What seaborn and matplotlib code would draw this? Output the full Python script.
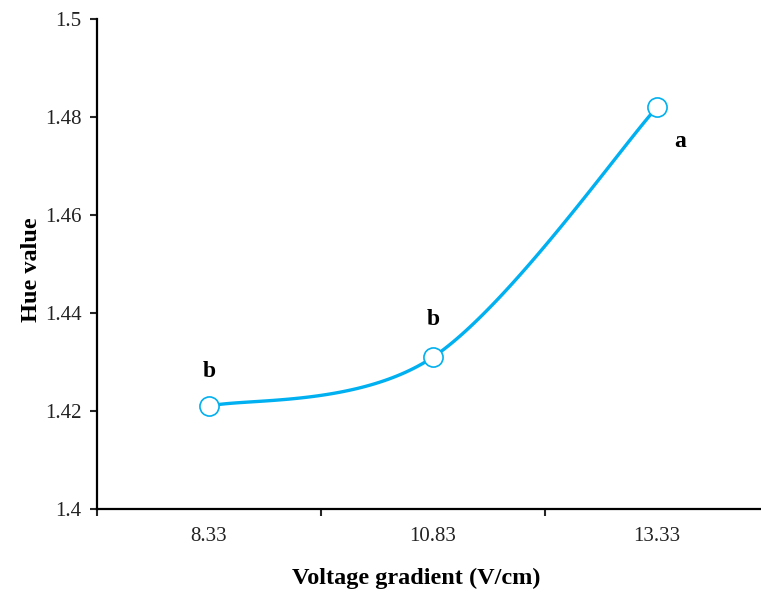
import numpy as np
import pandas as pd
import seaborn as sns
import matplotlib.pyplot as plt

# values
voltage = ['8.33', '10.83', '13.33']
hue_value = [1.421, 1.431, 1.482]
letters = ['b', 'b', 'a']

LINE = '#00B0F0'


def excel_smooth(y, n=60):
    """Excel-style smoothed line (Catmull-Rom as cubic Bezier)"""
    x = np.arange(len(y), dtype=float)
    y = np.asarray(y, dtype=float)
    pts = np.column_stack([x, y])
    ext = np.vstack([pts[0], pts, pts[-1]])
    out = []
    t = np.linspace(0, 1, n)[:, None]
    for i in range(len(pts) - 1):
        p0, p3 = ext[i + 1], ext[i + 2]
        c1 = p0 + (ext[i + 2] - ext[i]) / 6
        c2 = p3 - (ext[i + 3] - ext[i + 1]) / 6
        seg = ((1 - t) ** 3) * p0 + 3 * ((1 - t) ** 2) * t * c1 + 3 * (1 - t) * t ** 2 * c2 + t ** 3 * p3
        out.append(seg if i == 0 else seg[1:])
    curve = np.vstack(out)
    return pd.DataFrame({'x': curve[:, 0], 'y': curve[:, 1]})


sns.set_theme(style='white')
plt.rcParams['font.family'] = ['Liberation Serif', 'DejaVu Serif']

fig = plt.figure(figsize=(7.61, 5.95), dpi=100)
ax = fig.add_axes([97 / 761, 86 / 595, 672 / 761, 490 / 595])

df = pd.DataFrame({'pos': np.arange(len(voltage)), 'hue': hue_value})
sns.lineplot(data=excel_smooth(hue_value), x='x', y='y', ax=ax, color=LINE,
             linewidth=2.4, sort=False, estimator=None)
sns.scatterplot(data=df, x='pos', y='hue', ax=ax, s=190, color='white',
                edgecolor=LINE, linewidth=1.2, zorder=5)

offsets = [(0, 25), (0, 27), (17, -25)]
for i, (lab, off) in enumerate(zip(letters, offsets)):
    ax.annotate(lab, (i, hue_value[i]), xytext=off, textcoords='offset points',
                ha='center', va='center', fontsize=17, fontweight='bold', color='black')

ax.set_xlim(-0.5, 2.5)
ax.set_ylim(1.4, 1.5)
ax.set_yticks(np.arange(1.40, 1.501, 0.02))
ax.set_yticklabels(['1.4', '1.42', '1.44', '1.46', '1.48', '1.5'])
ax.set_xticks(range(len(voltage)))
ax.set_xticklabels(voltage)
ax.set_xticks([-0.5, 0.5, 1.5, 2.5], minor=True)
ax.tick_params(axis='x', which='major', length=0, pad=13, labelsize=15, labelcolor='#222222')
ax.tick_params(axis='x', which='minor', length=5, width=1.5, direction='out', bottom=True)
ax.tick_params(axis='y', length=5, width=1.5, direction='out', left=True, labelsize=15,
               pad=6, labelcolor='#222222')

for s in ['top', 'right']:
    ax.spines[s].set_visible(False)
for s in ['left', 'bottom']:
    ax.spines[s].set_linewidth(1.6)
    ax.spines[s].set_color('black')

ax.set_xlabel('Voltage gradient (V/cm)', fontsize=17.5, fontweight='bold', color='black')
ax.set_ylabel('Hue value', fontsize=17.5, fontweight='bold', color='black')
ax.xaxis.set_label_coords((416 - 97) / 672, -(568 - 509) / 490)
ax.yaxis.set_label_coords(-(97 - 42) / 672, (509 - 270) / 490)

fig.savefig('out.png', dpi=100)
